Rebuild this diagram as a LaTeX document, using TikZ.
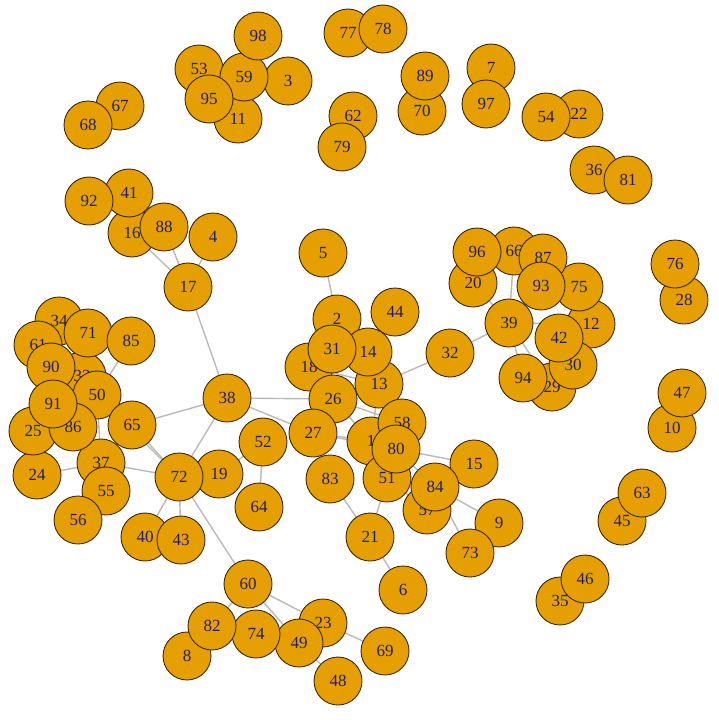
\documentclass[tikz,border=0pt]{standalone}
\usepackage{fontspec}
\setmainfont{Liberation Serif}
\usetikzlibrary{backgrounds}
\definecolor{vfill}{RGB}{230,159,0}
\definecolor{vdraw}{RGB}{60,40,10}
\definecolor{vtext}{RGB}{38,28,110}
\definecolor{elink}{RGB}{185,185,185}
\tikzset{
  vtx/.style={circle,fill=vfill,draw=vdraw,line width=0.9pt,minimum size=48pt,inner sep=0pt,text=vtext,font=\fontsize{17}{17}\selectfont},
  elk/.style={draw=elink,line width=1.4pt}
}
\begin{document}
\begin{tikzpicture}[x=1pt,y=-1pt]
\useasboundingbox (0,0) rectangle (719,720);
\foreach \n/\x/\y in {1/371/441,2/337/319,3/288/81,4/213/237,5/323/253,6/403/590,7/491/68,8/187/656,9/499/523,10/672/428,11/238/119,12/591/324,13/379/384,14/368/352,15/474/464,16/132/233,17/188/287,18/309/367,19/219/474,20/473/283,21/370/537,22/579/114,23/323/623,24/37/475,25/33/431,26/333/399,27/313/433,28/684/300,29/552/387,30/573/365,31/332/349,32/450/353,33/82/376,34/59/321,35/560/601,36/594/170,37/101/463,38/227/398,39/509/323,40/145/537,41/129/193,42/559/338,43/181/540,44/395/312,45/622/521,46/585/579,47/682/393,48/338/681,49/299/643,50/97/395,51/387/478,52/263/442,53/199/69,54/546/117,55/106/491,56/78/520,57/427/510,58/402/423,59/244/77,60/248/584,61/38/345,62/353/116,63/642/493,64/259/507,65/132/425,66/514/251,67/120/106,68/88/125,69/385/651,70/422/111,71/88/333,72/179/477,73/470/553,74/256/634,75/579/287,76/675/264,77/348/33,78/383/29,79/342/147,80/396/449,81/628/180,82/212/626,83/330/479,84/435/487,85/131/341,86/73/427,87/543/258,88/164/227,89/425/76,90/51/367,91/53/404,92/89/201,93/541/286,94/523/378,95/209/99,96/477/252,97/486/104,98/258/36}
  {\node[vtx] (n\n) at (\x,\y) {\n};}
\begin{pgfonlayer}{background}
\foreach \a/\b in {17/88,17/16,17/4,17/38,5/2,38/65,38/26,38/27,38/72,52/19,52/64,65/72,50/72,37/72,37/24,37/50,72/40,72/43,72/60,85/50,60/82,60/49,60/23,23/69,49/48,21/6,21/83,21/51,84/9,84/73,80/15,80/84,27/1,27/80,26/27,13/32,32/39,39/20,39/66,39/93,39/94,39/29,39/12,26/13,26/1,26/58,18/26,18/13,2/31,13/1,51/57}
  {\path[elk] (n\a.center) -- (n\b.center);}
\end{pgfonlayer}
\end{tikzpicture}
\end{document}
